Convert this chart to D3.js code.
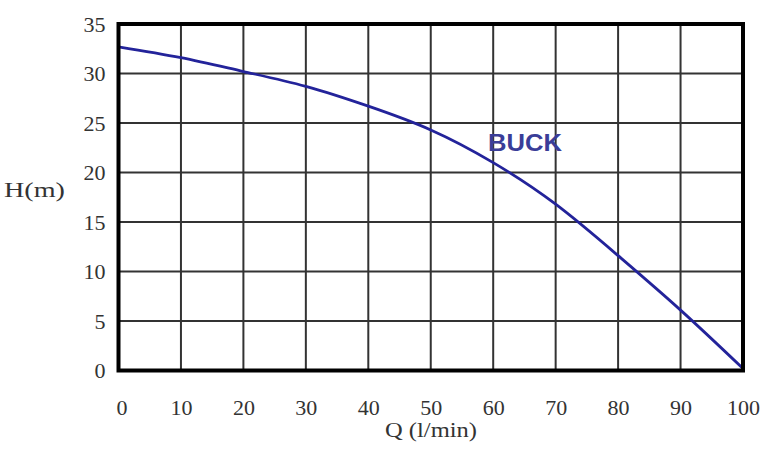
<!DOCTYPE html>
<html><head><meta charset="utf-8">
<script src="https://cdn.jsdelivr.net/npm/d3@7"></script>
<style>body{margin:0;background:#fff}svg{display:block}</style>
</head><body>
<svg id="c" width="761" height="451"></svg>
<script>
const flow = [0, 10, 20, 30, 40, 50, 60, 70, 80, 90, 100];
const head = [32.7, 31.6, 30.2, 28.7, 26.7, 24.3, 21.0, 16.8, 11.6, 6.1, 0.2];
const xTicks = [0, 10, 20, 30, 40, 50, 60, 70, 80, 90, 100];
const yTicks = [0, 5, 10, 15, 20, 25, 30, 35];
const seriesLabel = "BUCK";
const xTitle = "Q (l/min)";
const yTitle = "H(m)";

const svg = d3.select("#c");
const L = 118.5, R = 743, T = 24, B = 370.5;
const x = d3.scaleLinear().domain([0, 100]).range([L, R]);
const y = d3.scaleLinear().domain([0, 35]).range([B, T]);
const tickFont = "'Liberation Serif', 'Times New Roman', serif";

// grid
svg.append("g").selectAll("line").data(xTicks).join("line")
  .attr("x1", d => x(d)).attr("x2", d => x(d)).attr("y1", T).attr("y2", B)
  .attr("stroke", "#333").attr("stroke-width", 2);
svg.append("g").selectAll("line").data(yTicks).join("line")
  .attr("y1", d => y(d)).attr("y2", d => y(d)).attr("x1", L).attr("x2", R)
  .attr("stroke", "#333").attr("stroke-width", 2);

// curve
const line = d3.line().x((d, i) => x(flow[i])).y(d => y(d)).curve(d3.curveNatural);
svg.append("path").datum(head).attr("d", line).attr("fill", "none")
  .attr("stroke", "#23239a").attr("stroke-width", 2.8);

// frame
svg.append("rect").attr("x", L).attr("y", T).attr("width", R - L).attr("height", B - T)
  .attr("fill", "none").attr("stroke", "#000").attr("stroke-width", 4);

// axes labels
const xa = svg.append("g").attr("transform", `translate(0,${B})`)
  .call(d3.axisBottom(x).tickValues(xTicks).tickSize(0).tickPadding(0));
xa.select(".domain").remove();
xa.selectAll("text").attr("font-family", tickFont).attr("font-size", 22).attr("fill", "#333")
  .attr("y", 44.5).attr("dy", 0).attr("dx", (d) => d === 0 ? 3 : 0);

const ya = svg.append("g").attr("transform", `translate(${L - 13},0)`)
  .call(d3.axisLeft(y).tickValues(yTicks).tickSize(0).tickPadding(0));
ya.select(".domain").remove();
ya.selectAll("text").attr("font-family", tickFont).attr("font-size", 22).attr("fill", "#333");

svg.append("text").attr("x", 385).attr("y", 437)
  .attr("textLength", 92).attr("lengthAdjust", "spacingAndGlyphs")
  .attr("font-family", tickFont).attr("font-size", 21).attr("fill", "#333").text(xTitle);
svg.append("text").attr("x", 4).attr("y", 197)
  .attr("textLength", 61).attr("lengthAdjust", "spacingAndGlyphs")
  .attr("font-family", tickFont).attr("font-size", 21).attr("fill", "#333").text(yTitle);

svg.append("text").attr("x", 488).attr("y", 151)
  .attr("textLength", 74).attr("lengthAdjust", "spacingAndGlyphs")
  .attr("font-family", "'Liberation Sans', Arial, sans-serif").attr("font-weight", "bold")
  .attr("font-size", 23).attr("fill", "#3a3d98").text(seriesLabel);
</script>
</body></html>
